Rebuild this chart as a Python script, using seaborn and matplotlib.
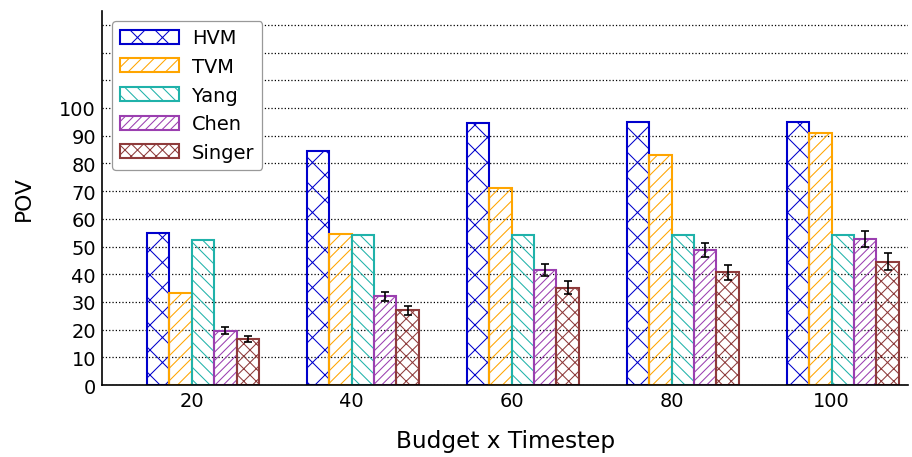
import numpy as np
import pandas as pd
import matplotlib
matplotlib.use('Agg')
import matplotlib.pyplot as plt
import seaborn as sns

# Data
budgets = ['20', '40', '60', '80', '100']
methods = ['HVM', 'TVM', 'Yang', 'Chen', 'Singer']
hvm = [55.0, 84.3, 94.6, 94.9, 94.9]
tvm = [33.1, 54.5, 71.1, 83.1, 90.8]
yang = [52.3, 54.1, 54.1, 54.1, 54.1]
chen = [19.6, 32.0, 41.4, 48.6, 52.8]
singer = [16.6, 27.0, 35.1, 40.8, 44.5]
chen_err = [1.2, 1.5, 2.2, 2.5, 2.8]
singer_err = [1.0, 1.7, 2.3, 2.7, 3.0]

colors = ['#0000CC', '#FFA500', '#20B2AA', '#9B3FB0', '#8E3B3B']
hatches = ['xx', '////', '\\\\\\\\', '//////', 'xxxx']

rows = []
for m, vals in zip(methods, [hvm, tvm, yang, chen, singer]):
    for b, v in zip(budgets, vals):
        rows.append({'budget': b, 'method': m, 'pov': v})
df = pd.DataFrame(rows)

sns.set_style('white')
plt.rcParams.update({
    'font.family': ['DejaVu Sans'],
    'hatch.linewidth': 0.5,
    'xtick.direction': 'in',
    'ytick.direction': 'in',
    'axes.linewidth': 0.8,
    'text.color': 'black',
    'axes.labelcolor': 'black',
    'xtick.color': 'black',
    'ytick.color': 'black',
})

fig, ax = plt.subplots(figsize=(6.08, 3.053), dpi=150)
sns.barplot(data=df, x='budget', y='pov', hue='method', order=budgets,
            hue_order=methods, palette=colors, fill=False, width=0.7,
            gap=0, linewidth=1.0, errorbar=None, legend=False, ax=ax)

for cont, col, h in zip(ax.containers, colors, hatches):
    for p in cont:
        p.set_hatch(h)
        p.set_edgecolor(col)
        p.set_facecolor('none')

# error bars on Chen and Singer
for cont, vals, errs in [(ax.containers[3], chen, chen_err),
                         (ax.containers[4], singer, singer_err)]:
    xs = [p.get_x() + p.get_width() / 2 for p in cont]
    ax.errorbar(xs, vals, yerr=errs, fmt='none', ecolor='black',
                elinewidth=0.8, capsize=1.8, capthick=0.8, zorder=5)

# ticks sit at the left edge of the middle bar
tick_pos = [p.get_x() for p in ax.containers[2]]
ax.set_xticks(tick_pos)
ax.set_xticklabels(budgets, fontsize=9.3)
ax.set_xlim(-0.63, 4.41)

ax.set_ylim(0, 135)
ax.set_yticks(np.arange(0, 131, 10))
ax.set_yticklabels([str(v) if v <= 100 else '' for v in range(0, 131, 10)], fontsize=9.3)
ax.tick_params(axis='both', length=3, width=0.6, colors='black', pad=3)

ax.grid(axis='y', linestyle=':', color='black', linewidth=0.6)
ax.set_axisbelow(True)
sns.despine(ax=ax, top=True, right=True)
ax.spines['left'].set_color('black')
ax.spines['bottom'].set_color('black')

ax.set_xlabel('Budget x Timestep', fontsize=11.2, labelpad=9)
ax.set_ylabel('POV', fontsize=10.5, labelpad=12)

leg = ax.legend(ax.containers, methods, loc='upper left', fontsize=9.3,
                handlelength=3.05, handleheight=0.75, handletextpad=0.7,
                labelspacing=0.5, borderpad=0.4, fancybox=True, framealpha=1)
leg.get_frame().set_edgecolor('#999999')
leg.get_frame().set_linewidth(0.6)

plt.subplots_adjust(left=0.112, right=0.996, bottom=0.157, top=0.974)
plt.savefig('out.png', dpi=150)
